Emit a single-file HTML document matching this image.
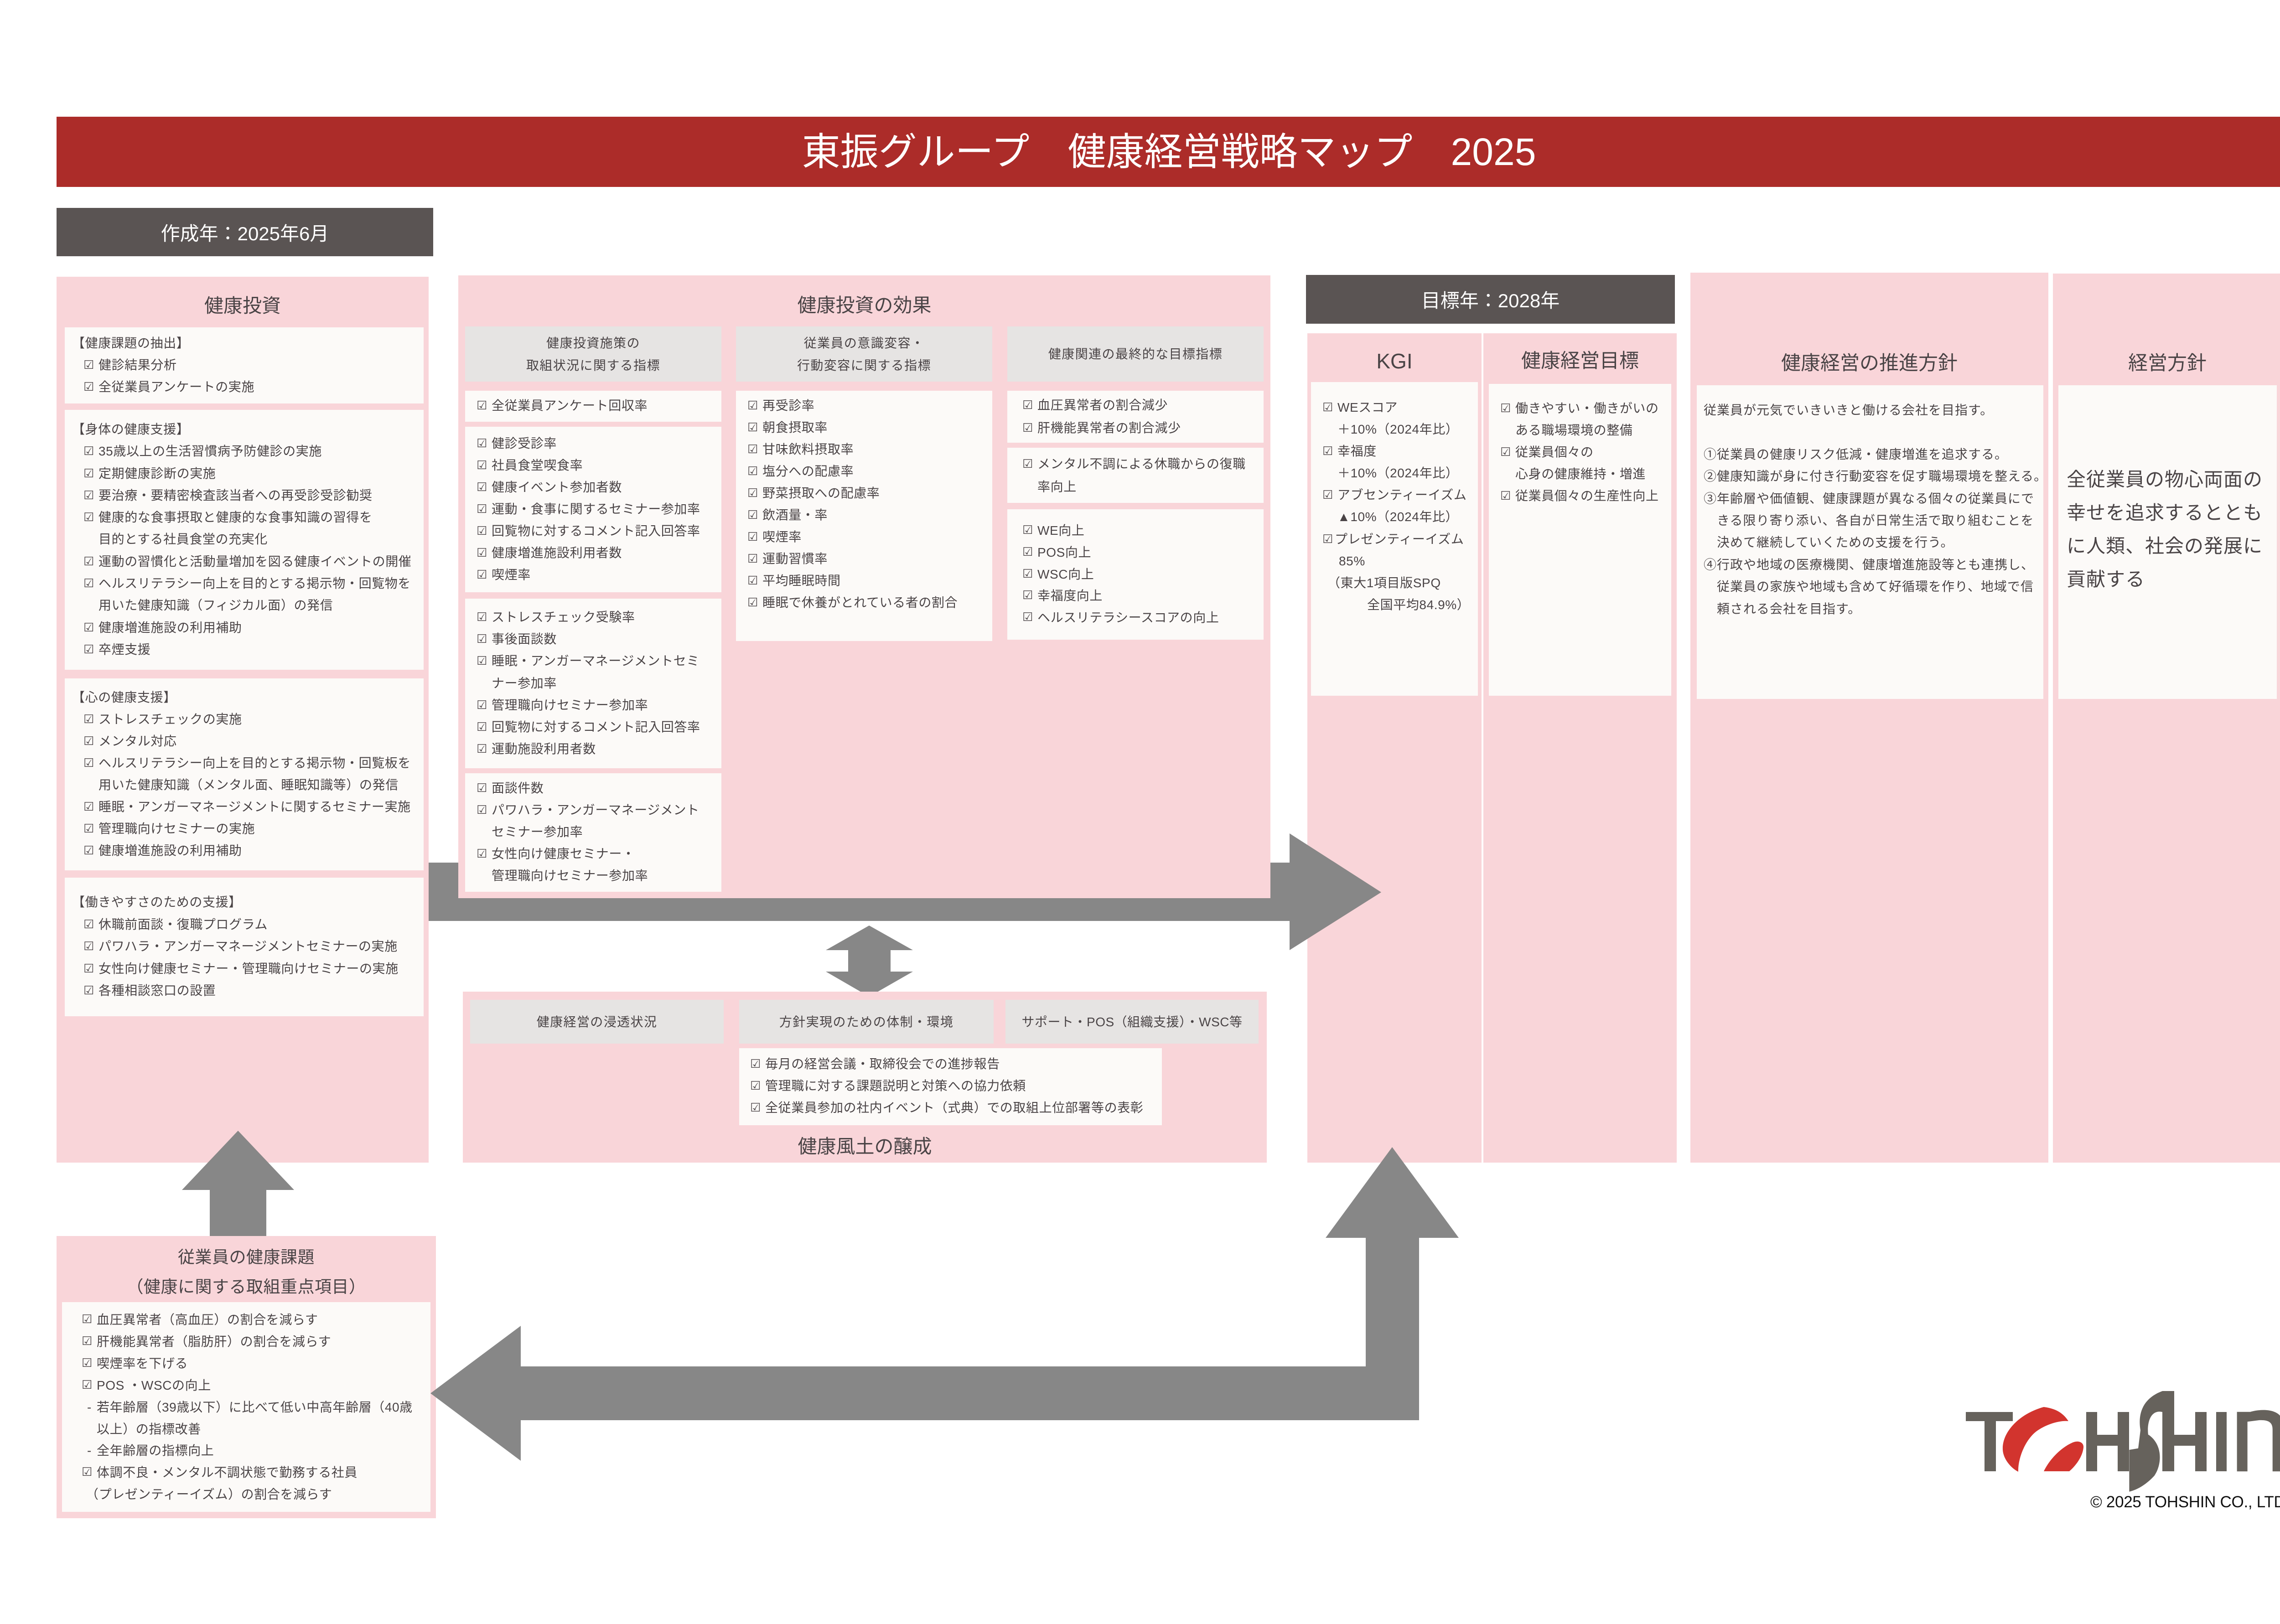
<!DOCTYPE html>
<html lang="ja">
<head>
<meta charset="utf-8">
<style>
*{margin:0;padding:0;box-sizing:border-box}
html,body{width:5112px;height:3562px;background:#fff;overflow:hidden}
body{position:relative;font-family:"Liberation Sans","Noto Sans CJK JP",sans-serif;color:#4a4446}
.a{position:absolute}
.pink{position:absolute;background:#f9d5d9}
.wh{position:absolute;background:#fcfaf8}
.gr{position:absolute;background:#e6e4e3;display:flex;align-items:center;justify-content:center;text-align:center;font-size:28px;line-height:49px;letter-spacing:1.4px;color:#4a4446}
.dk{position:absolute;background:#5a5453;color:#fff;display:flex;align-items:center;justify-content:center;font-size:42px}
.ttl{position:absolute;text-align:center;font-size:42px;line-height:60px;height:60px;color:#4a4446;white-space:nowrap}
.t{position:absolute;font-size:28px;line-height:48px;white-space:nowrap;letter-spacing:0.6px;color:#4a4446}
.t>div{position:relative}
.c{position:absolute;left:-33px;font-family:"DejaVu Sans",sans-serif;font-size:26px;letter-spacing:0}
.h{margin-left:-58px}
</style>
</head>
<body>

<!-- Title bar -->
<div class="a" style="left:124px;top:256px;width:4879px;height:154px;background:#ac2c29;color:#fff;font-size:84px;line-height:154px;text-align:center;white-space:nowrap">東振グループ　健康経営戦略マップ　2025</div>

<div class="dk" style="left:124px;top:456px;width:826px;height:106px">作成年：2025年6月</div>

<!-- horizontal arrow shaft (behind panels) -->
<div class="a" style="left:930px;top:1892px;width:1910px;height:128px;background:#878787"></div>

<!-- LEFT COLUMN -->
<div class="pink" style="left:124px;top:607px;width:816px;height:1943px"></div>
<div class="ttl" style="left:124px;top:641px;width:816px">健康投資</div>

<div class="wh" style="left:142px;top:718px;width:787px;height:167px"></div>
<div class="t" style="left:216px;top:729px">
<div class="h">【健康課題の抽出】</div>
<div><span class="c">☑</span>健診結果分析</div>
<div><span class="c">☑</span>全従業員アンケートの実施</div>
</div>

<div class="wh" style="left:142px;top:899px;width:787px;height:570px"></div>
<div class="t" style="left:216px;top:918px;line-height:48.3px">
<div class="h">【身体の健康支援】</div>
<div><span class="c">☑</span>35歳以上の生活習慣病予防健診の実施</div>
<div><span class="c">☑</span>定期健康診断の実施</div>
<div><span class="c">☑</span>要治療・要精密検査該当者への再受診受診勧奨</div>
<div><span class="c">☑</span>健康的な食事摂取と健康的な食事知識の習得を</div>
<div>目的とする社員食堂の充実化</div>
<div><span class="c">☑</span>運動の習慣化と活動量増加を図る健康イベントの開催</div>
<div><span class="c">☑</span>ヘルスリテラシー向上を目的とする掲示物・回覧物を</div>
<div>用いた健康知識（フィジカル面）の発信</div>
<div><span class="c">☑</span>健康増進施設の利用補助</div>
<div><span class="c">☑</span>卒煙支援</div>
</div>

<div class="wh" style="left:142px;top:1488px;width:787px;height:421px"></div>
<div class="t" style="left:216px;top:1506px">
<div class="h">【心の健康支援】</div>
<div><span class="c">☑</span>ストレスチェックの実施</div>
<div><span class="c">☑</span>メンタル対応</div>
<div><span class="c">☑</span>ヘルスリテラシー向上を目的とする掲示物・回覧板を</div>
<div>用いた健康知識（メンタル面、睡眠知識等）の発信</div>
<div><span class="c">☑</span>睡眠・アンガーマネージメントに関するセミナー実施</div>
<div><span class="c">☑</span>管理職向けセミナーの実施</div>
<div><span class="c">☑</span>健康増進施設の利用補助</div>
</div>

<div class="wh" style="left:142px;top:1925px;width:787px;height:304px"></div>
<div class="t" style="left:216px;top:1955px;line-height:48.5px">
<div class="h">【働きやすさのための支援】</div>
<div><span class="c">☑</span>休職前面談・復職プログラム</div>
<div><span class="c">☑</span>パワハラ・アンガーマネージメントセミナーの実施</div>
<div><span class="c">☑</span>女性向け健康セミナー・管理職向けセミナーの実施</div>
<div><span class="c">☑</span>各種相談窓口の設置</div>
</div>

<!-- MIDDLE PANEL -->
<div class="pink" style="left:1005px;top:604px;width:1781px;height:1366px"></div>
<div class="ttl" style="left:1005px;top:640px;width:1781px">健康投資の効果</div>

<div class="gr" style="left:1020px;top:716px;width:562px;height:121px">健康投資施策の<br>取組状況に関する指標</div>
<div class="gr" style="left:1614px;top:716px;width:562px;height:121px">従業員の意識変容・<br>行動変容に関する指標</div>
<div class="gr" style="left:2209px;top:716px;width:562px;height:121px">健康関連の最終的な目標指標</div>

<div class="wh" style="left:1020px;top:857px;width:562px;height:68px"></div>
<div class="t" style="left:1078px;top:866px">
<div><span class="c">☑</span>全従業員アンケート回収率</div>
</div>
<div class="wh" style="left:1020px;top:936px;width:562px;height:363px"></div>
<div class="t" style="left:1078px;top:949px">
<div><span class="c">☑</span>健診受診率</div>
<div><span class="c">☑</span>社員食堂喫食率</div>
<div><span class="c">☑</span>健康イベント参加者数</div>
<div><span class="c">☑</span>運動・食事に関するセミナー参加率</div>
<div><span class="c">☑</span>回覧物に対するコメント記入回答率</div>
<div><span class="c">☑</span>健康増進施設利用者数</div>
<div><span class="c">☑</span>喫煙率</div>
</div>
<div class="wh" style="left:1020px;top:1313px;width:562px;height:372px"></div>
<div class="t" style="left:1078px;top:1330px;line-height:48.2px">
<div><span class="c">☑</span>ストレスチェック受験率</div>
<div><span class="c">☑</span>事後面談数</div>
<div><span class="c">☑</span>睡眠・アンガーマネージメントセミ</div>
<div>ナー参加率</div>
<div><span class="c">☑</span>管理職向けセミナー参加率</div>
<div><span class="c">☑</span>回覧物に対するコメント記入回答率</div>
<div><span class="c">☑</span>運動施設利用者数</div>
</div>
<div class="wh" style="left:1020px;top:1696px;width:562px;height:260px"></div>
<div class="t" style="left:1078px;top:1705px">
<div><span class="c">☑</span>面談件数</div>
<div><span class="c">☑</span>パワハラ・アンガーマネージメント</div>
<div>セミナー参加率</div>
<div><span class="c">☑</span>女性向け健康セミナー・</div>
<div>管理職向けセミナー参加率</div>
</div>

<div class="wh" style="left:1614px;top:857px;width:562px;height:549px"></div>
<div class="t" style="left:1672px;top:866px">
<div><span class="c">☑</span>再受診率</div>
<div><span class="c">☑</span>朝食摂取率</div>
<div><span class="c">☑</span>甘味飲料摂取率</div>
<div><span class="c">☑</span>塩分への配慮率</div>
<div><span class="c">☑</span>野菜摂取への配慮率</div>
<div><span class="c">☑</span>飲酒量・率</div>
<div><span class="c">☑</span>喫煙率</div>
<div><span class="c">☑</span>運動習慣率</div>
<div><span class="c">☑</span>平均睡眠時間</div>
<div><span class="c">☑</span>睡眠で休養がとれている者の割合</div>
</div>

<div class="wh" style="left:2209px;top:857px;width:562px;height:114px"></div>
<div class="t" style="left:2275px;top:864px;line-height:50px">
<div><span class="c">☑</span>血圧異常者の割合減少</div>
<div><span class="c">☑</span>肝機能異常者の割合減少</div>
</div>
<div class="wh" style="left:2209px;top:982px;width:562px;height:121px"></div>
<div class="t" style="left:2275px;top:993px;line-height:50px">
<div><span class="c">☑</span>メンタル不調による休職からの復職</div>
<div>率向上</div>
</div>
<div class="wh" style="left:2209px;top:1117px;width:562px;height:286px"></div>
<div class="t" style="left:2275px;top:1140px;line-height:47.8px">
<div><span class="c">☑</span>WE向上</div>
<div><span class="c">☑</span>POS向上</div>
<div><span class="c">☑</span>WSC向上</div>
<div><span class="c">☑</span>幸福度向上</div>
<div><span class="c">☑</span>ヘルスリテラシースコアの向上</div>
</div>

<!-- double arrow -->
<svg class="a" style="left:0;top:0" width="5112" height="3562" viewBox="0 0 5112 3562">
<polygon fill="#878787" points="1906,2030 2002,2084 1953,2084 1953,2131 2002,2131 1906,2186 1811,2131 1860,2131 1860,2084 1811,2084"/>
</svg>

<!-- LOWER MIDDLE PANEL -->
<div class="pink" style="left:1015px;top:2175px;width:1763px;height:375px"></div>
<div class="gr" style="left:1031px;top:2193px;width:556px;height:96px">健康経営の浸透状況</div>
<div class="gr" style="left:1621px;top:2193px;width:558px;height:96px">方針実現のための体制・環境</div>
<div class="gr" style="left:2205px;top:2193px;width:555px;height:96px;letter-spacing:0.5px">サポート・POS（組織支援）・WSC等</div>
<div class="wh" style="left:1621px;top:2299px;width:927px;height:169px"></div>
<div class="t" style="left:1678px;top:2310px">
<div><span class="c">☑</span>毎月の経営会議・取締役会での進捗報告</div>
<div><span class="c">☑</span>管理職に対する課題説明と対策への協力依頼</div>
<div><span class="c">☑</span>全従業員参加の社内イベント（式典）での取組上位部署等の表彰</div>
</div>
<div class="ttl" style="left:1015px;top:2485px;width:1763px">健康風土の醸成</div>

<!-- KGI / Goals -->
<div class="dk" style="left:2864px;top:603px;width:809px;height:107px">目標年：2028年</div>
<div class="pink" style="left:2867px;top:731px;width:382px;height:1819px"></div>
<div class="pink" style="left:3253px;top:731px;width:424px;height:1819px"></div>
<div class="ttl" style="left:2867px;top:762px;width:382px;font-size:46px">KGI</div>
<div class="ttl" style="left:3253px;top:762px;width:424px;font-size:43px">健康経営目標</div>
<div class="wh" style="left:2875px;top:838px;width:366px;height:688px"></div>
<div class="wh" style="left:3265px;top:842px;width:400px;height:684px"></div>
<div class="t" style="left:2933px;top:870px;line-height:48.1px">
<div><span class="c">☑</span>WEスコア</div>
<div>＋10%（2024年比）</div>
<div><span class="c">☑</span>幸福度</div>
<div>＋10%（2024年比）</div>
<div><span class="c">☑</span>アブセンティーイズム</div>
<div>▲10%（2024年比）</div>
<div style="left:-6px"><span class="c" style="left:-27px">☑</span>プレゼンティーイズム</div>
<div style="left:3px">85%</div>
<div style="left:-22px">（東大1項目版SPQ</div>
<div style="left:65px">全国平均84.9%）</div>
</div>
<div class="t" style="left:3323px;top:872px">
<div><span class="c">☑</span>働きやすい・働きがいの</div>
<div>ある職場環境の整備</div>
<div><span class="c">☑</span>従業員個々の</div>
<div>心身の健康維持・増進</div>
<div><span class="c">☑</span>従業員個々の生産性向上</div>
</div>

<!-- 推進方針 -->
<div class="pink" style="left:3707px;top:598px;width:785px;height:1952px"></div>
<div class="ttl" style="left:3707px;top:767px;width:785px;font-size:43px">健康経営の推進方針</div>
<div class="wh" style="left:3721px;top:845px;width:760px;height:688px"></div>
<div class="t" style="left:3736px;top:876px;line-height:48.4px;letter-spacing:1px">
<div>従業員が元気でいきいきと働ける会社を目指す。</div>
<div>&nbsp;</div>
<div>①従業員の健康リスク低減・健康増進を追求する。</div>
<div>②健康知識が身に付き行動変容を促す職場環境を整える。</div>
<div>③年齢層や価値観、健康課題が異なる個々の従業員にで</div>
<div style="left:29px">きる限り寄り添い、各自が日常生活で取り組むことを</div>
<div style="left:29px">決めて継続していくための支援を行う。</div>
<div>④行政や地域の医療機関、健康増進施設等とも連携し、</div>
<div style="left:29px">従業員の家族や地域も含めて好循環を作り、地域で信</div>
<div style="left:29px">頼される会社を目指す。</div>
</div>

<!-- 経営方針 -->
<div class="pink" style="left:4502px;top:600px;width:502px;height:1950px"></div>
<div class="ttl" style="left:4502px;top:767px;width:502px;font-size:43px">経営方針</div>
<div class="wh" style="left:4514px;top:845px;width:479px;height:688px"></div>
<div class="t" style="left:4532px;top:1015px;font-size:42px;line-height:73px;letter-spacing:1px">
<div>全従業員の物心両面の</div>
<div>幸せを追求するととも</div>
<div>に人類、社会の発展に</div>
<div>貢献する</div>
</div>

<!-- ISSUES BOX -->
<div class="pink" style="left:124px;top:2711px;width:832px;height:619px"></div>
<div class="a" style="left:124px;top:2725px;width:832px;text-align:center;font-size:37px;line-height:65px;letter-spacing:0.5px;white-space:nowrap;color:#4a4446">従業員の健康課題<br>（健康に関する取組重点項目）</div>
<div class="wh" style="left:136px;top:2856px;width:808px;height:460px"></div>
<div class="t" style="left:212px;top:2871px;line-height:47.9px">
<div><span class="c">☑</span>血圧異常者（高血圧）の割合を減らす</div>
<div><span class="c">☑</span>肝機能異常者（脂肪肝）の割合を減らす</div>
<div><span class="c">☑</span>喫煙率を下げる</div>
<div><span class="c">☑</span>POS ・WSCの向上</div>
<div><span class="a" style="left:-21px;top:0">-</span>若年齢層（39歳以下）に比べて低い中高年齢層（40歳</div>
<div>以上）の指標改善</div>
<div><span class="a" style="left:-21px;top:0">-</span>全年齢層の指標向上</div>
<div><span class="c">☑</span>体調不良・メンタル不調状態で勤務する社員</div>
<div style="left:-24px">（プレゼンティーイズム）の割合を減らす</div>
</div>

<!-- Arrows on top -->
<svg class="a" style="left:0;top:0" width="5112" height="3562" viewBox="0 0 5112 3562">
<polygon fill="#878787" points="2828,1828 3029,1957 2828,2084"/>
<polygon fill="#878787" points="522,2480 645,2610 584,2610 584,2711 460,2711 460,2610 399,2610"/>
<polygon fill="#878787" points="944,3056 1142,2908 1142,2997 2995,2997 2995,2715 2907,2715 3053,2516 3199,2715 3112,2715 3112,3115 1142,3115 1142,3204"/>
<!-- Logo -->
<g fill="#66625c">
<rect x="4311" y="3097" width="103" height="20"/>
<rect x="4352" y="3117" width="25" height="110"/>
<rect x="4575" y="3097" width="24" height="130"/>
<rect x="4599" y="3147" width="45" height="24"/>
<rect x="4644" y="3097" width="25" height="130"/>
<path d="M4742.3,3051 C4709,3063 4686,3090 4694,3137 L4689,3177 L4712,3153 C4707,3130 4712,3090 4742.3,3097 Z"/>
<path d="M4711.7,3146.7 C4745,3170 4740,3215 4724.5,3236.7 C4705,3258 4685,3268 4669.4,3271.7 L4669.4,3180 L4688.8,3176.7 Z"/>
<rect x="4742" y="3051" width="26" height="176"/>
<rect x="4768" y="3147" width="46" height="24"/>
<rect x="4814" y="3097" width="25" height="130"/>
<rect x="4860" y="3097" width="23" height="130"/>
<path d="M4905.6,3096.7 L4935,3096.7 C4950,3092 4985,3088 5000,3105 C5006,3113 5007.6,3122 5007.6,3130 L5007.6,3227.3 L4983.7,3227.3 L4983.7,3135 C4983.7,3120 4975,3114 4954,3115 L4928.6,3118.3 L4928.6,3227.3 L4905.6,3227.3 Z"/>
</g>
<g fill="#d2342e">
<path d="M4482,3086 C4430,3100 4390,3140 4392,3180 C4393,3200 4410,3220 4426,3228 C4425,3200 4440,3160 4465,3140 C4485,3125 4515,3115 4536,3117 C4528,3105 4515,3090 4482,3086 Z"/>
<path d="M4482,3227 C4495,3200 4520,3175 4545,3164 C4560,3158 4570,3165 4569,3175 C4567,3195 4552,3215 4538,3227 Z"/>
</g>
</svg>
<div class="a" style="left:4584px;top:3274px;font-family:'Liberation Sans',sans-serif;font-size:35px;line-height:42px;color:#111;white-space:nowrap;letter-spacing:-0.3px">© 2025 TOHSHIN CO., LTD.</div>

</body>
</html>
